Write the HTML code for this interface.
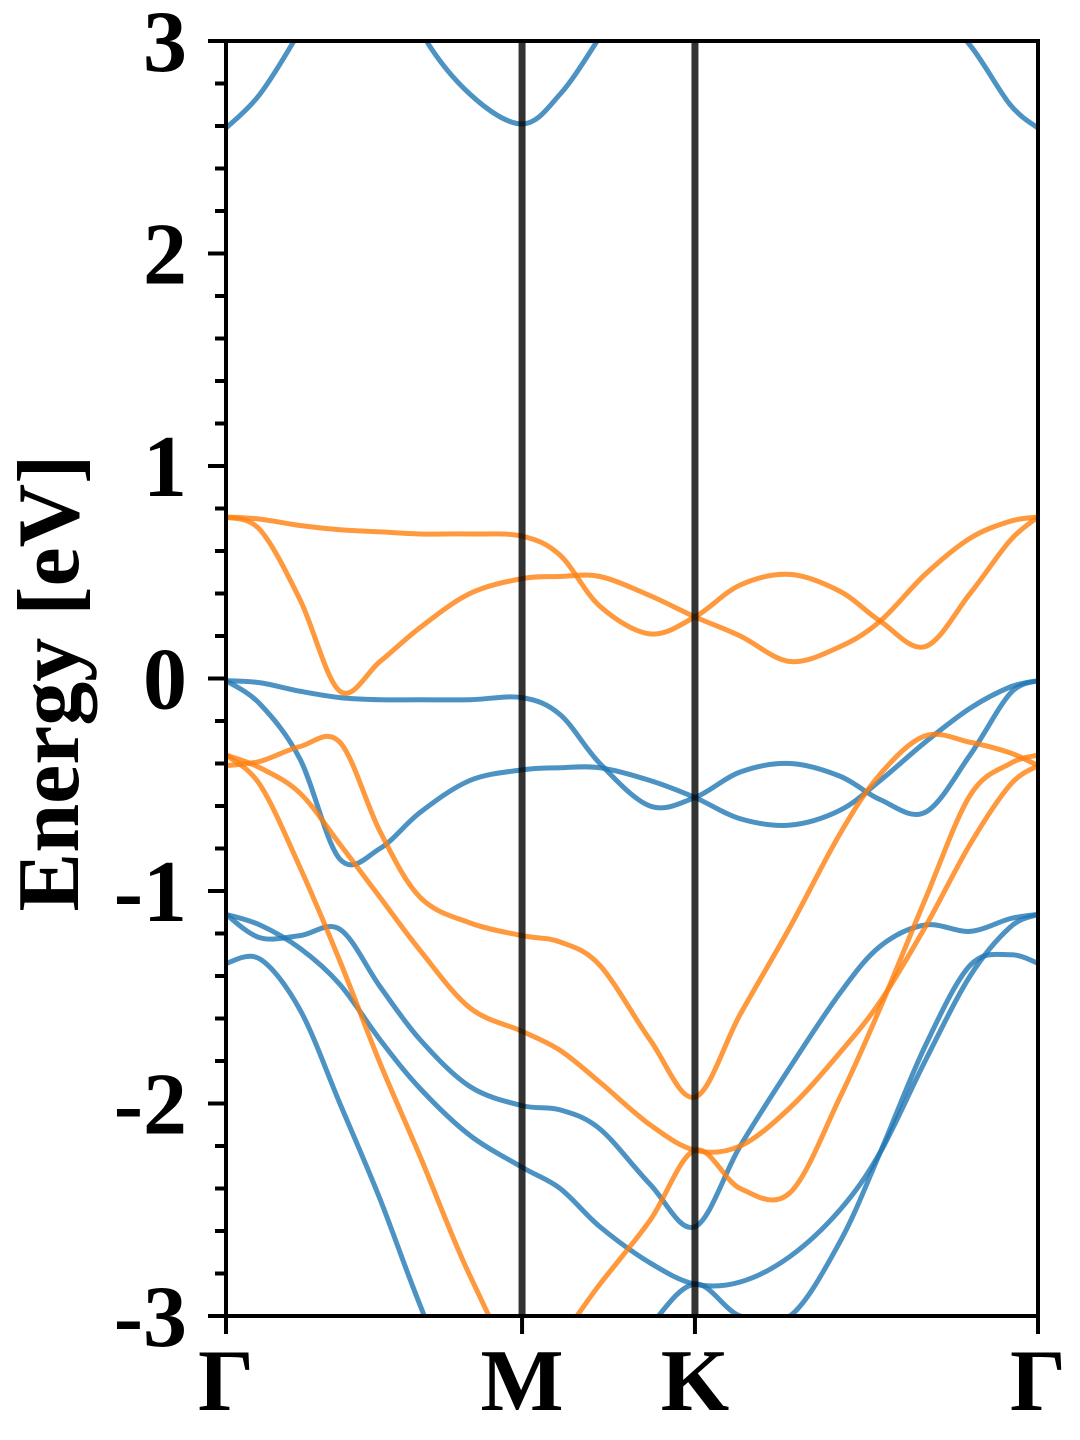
<!DOCTYPE html>
<html><head><meta charset="utf-8"><style>
html,body{margin:0;padding:0;background:#fff;}
svg{display:block;}
text{font-family:"Liberation Serif","Times New Roman",serif;font-weight:bold;fill:#000;}
</style></head><body>
<svg id="chart" width="1080" height="1440" viewBox="0 0 1080 1440" xmlns="http://www.w3.org/2000/svg">
<defs><clipPath id="plotclip"><rect x="226" y="41" width="812" height="1275"/></clipPath></defs>
<g id="bands" clip-path="url(#plotclip)"></g>
<g id="axes"></g>
</svg>
<script>
// k-path coordinates (units where K-Γ = 1)
const kpts = [0,0.099,0.216,0.332,0.449,0.566,0.711,0.863,0.974,1.090,1.236,1.367,1.499,1.644,1.790,1.907,2.038,2.169,2.286,2.367];
const symLabels = ["Γ","M","K","Γ"];
const symK = [0,0.863,1.367,2.367];
const yTicks = [-3,-2,-1,0,1,2,3];
const yTickLabels = ["-3","-2","-1","0","1","2","3"];
// spin-down (blue) bands
const blueC1 = [2.59,2.75,3.05,3.4,3.5,3.05,2.75,2.61,2.75,3.02,3.4,3.6,3.6,3.6,3.5,3.3,3.2,2.98,2.70,2.59];
const blueB1 = [-0.01,-0.02,-0.06,-0.09,-0.10,-0.10,-0.10,-0.09,-0.17,-0.40,-0.60,-0.56,-0.44,-0.40,-0.46,-0.57,-0.63,-0.36,-0.07,-0.01];
const blueB2 = [-0.01,-0.12,-0.38,-0.85,-0.80,-0.63,-0.48,-0.43,-0.42,-0.42,-0.48,-0.56,-0.66,-0.69,-0.62,-0.48,-0.30,-0.14,-0.04,-0.01];
const blueB3 = [-1.11,-1.22,-1.21,-1.18,-1.45,-1.70,-1.92,-2.01,-2.03,-2.12,-2.38,-2.58,-2.20,-1.83,-1.48,-1.26,-1.16,-1.19,-1.13,-1.11];
const blueB4 = [-1.11,-1.16,-1.27,-1.44,-1.70,-1.93,-2.15,-2.30,-2.40,-2.58,-2.75,-2.85,-2.84,-2.72,-2.50,-2.23,-1.80,-1.40,-1.17,-1.11];
const blueB5 = [-1.34,-1.32,-1.56,-2.0,-2.45,-2.95,-3.5,-3.6,-3.6,-3.4,-3.05,-2.85,-3.0,-3.0,-2.65,-2.23,-1.73,-1.35,-1.30,-1.34];
// spin-up (orange) bands
const orgO1 = [0.76,0.75,0.72,0.70,0.69,0.68,0.68,0.67,0.58,0.34,0.21,0.29,0.44,0.49,0.41,0.27,0.15,0.40,0.65,0.76];
const orgO2 = [0.76,0.70,0.37,-0.06,0.08,0.24,0.40,0.47,0.48,0.48,0.39,0.29,0.20,0.08,0.15,0.27,0.49,0.66,0.74,0.76];
const orgO3 = [-0.41,-0.39,-0.32,-0.30,-0.72,-1.03,-1.15,-1.21,-1.24,-1.35,-1.70,-1.97,-1.58,-1.17,-0.73,-0.45,-0.27,-0.30,-0.35,-0.41];
const orgO4 = [-0.36,-0.42,-0.54,-0.78,-1.03,-1.28,-1.55,-1.66,-1.75,-1.90,-2.10,-2.22,-2.20,-2.02,-1.76,-1.52,-1.17,-0.78,-0.50,-0.41];
const orgO5 = [-0.36,-0.50,-0.89,-1.33,-1.81,-2.25,-2.81,-3.25,-3.1,-2.85,-2.55,-2.22,-2.40,-2.42,-1.97,-1.55,-1.04,-0.55,-0.40,-0.36];

const blueBands = [blueC1,blueB1,blueB2,blueB3,blueB4,blueB5];
const orangeBands = [orgO1,orgO2,orgO3,orgO4,orgO5];

const X0=226,X1=1038,Y0=1316,Y1=41,KMAX=2.367,EMIN=-3,EMAX=3;
function xs(k){return X0+(k/KMAX)*(X1-X0);}
function ys(e){return Y0-(e-EMIN)/(EMAX-EMIN)*(Y0-Y1);}
const NS="http://www.w3.org/2000/svg";
function mk(tag,attrs,parent){const el=document.createElementNS(NS,tag);for(const a in attrs)el.setAttribute(a,attrs[a]);parent.appendChild(el);return el;}
function pathFor(vals){
  const p=vals.map((v,i)=>[xs(kpts[i]),ys(v)]);
  let d="M"+p[0][0].toFixed(2)+","+p[0][1].toFixed(2);
  for(let i=0;i<p.length-1;i++){
    const p0=p[i-1]||p[i],p1=p[i],p2=p[i+1],p3=p[i+2]||p[i+1];
    const c1x=p1[0]+(p2[0]-p0[0])/6,c1y=p1[1]+(p2[1]-p0[1])/6;
    const c2x=p2[0]-(p3[0]-p1[0])/6,c2y=p2[1]-(p3[1]-p1[1])/6;
    d+=" C"+c1x.toFixed(2)+","+c1y.toFixed(2)+" "+c2x.toFixed(2)+","+c2y.toFixed(2)+" "+p2[0].toFixed(2)+","+p2[1].toFixed(2);
  }
  return d;
}
const bandsG=document.getElementById('bands');
const axesG=document.getElementById('axes');
blueBands.forEach((b,i)=>{
  const el=mk('path',{d:pathFor(b),fill:'none',stroke:'#1f77b4','stroke-opacity':'0.8','stroke-width':'5'},bandsG);
  
  
});
orangeBands.forEach((b,i)=>{
  const el=mk('path',{d:pathFor(b),fill:'none',stroke:'#ff7f0e','stroke-opacity':'0.8','stroke-width':'5'},bandsG);
  
  
});
symK.slice(1,3).forEach((k,i)=>{
  const el=mk('line',{x1:xs(k),x2:xs(k),y1:Y1,y2:Y0,stroke:'#000','stroke-opacity':'0.8','stroke-width':'7'},axesG);
  
  
});
const frame=mk('rect',{x:X0,y:Y1,width:X1-X0,height:Y0-Y1,fill:'none',stroke:'#000','stroke-width':'4'},axesG);


for(let e=EMIN;e<=EMAX+1e-9;e+=0.2){
  const major=Math.abs(e-Math.round(e))<1e-6;
  const t=mk('line',{x1:X0-(major?18:11),x2:X0,y1:ys(e),y2:ys(e),stroke:'#000','stroke-width':'4'},axesG);
  
  
}
yTicks.forEach((v,i)=>{
  const t=mk('text',{x:187,y:ys(v)+30,'text-anchor':'end','font-size':'88'},axesG);
  t.textContent=yTickLabels[i];
  
  
});
symK.forEach((k,i)=>{
  const t=mk('line',{x1:xs(k),x2:xs(k),y1:Y0,y2:Y0+18,stroke:'#000','stroke-width':'4'},axesG);
  
  
  const l=mk('text',{x:xs(k),y:1410,'text-anchor':'middle','font-size':'88'},axesG);
  l.textContent=symLabels[i];
  
  
});
const yl=mk('text',{x:0,y:0,'text-anchor':'middle','font-size':'88',transform:'translate(78,683) rotate(-90)'},axesG);
yl.textContent='Energy [eV]';


</script>
</body></html>
